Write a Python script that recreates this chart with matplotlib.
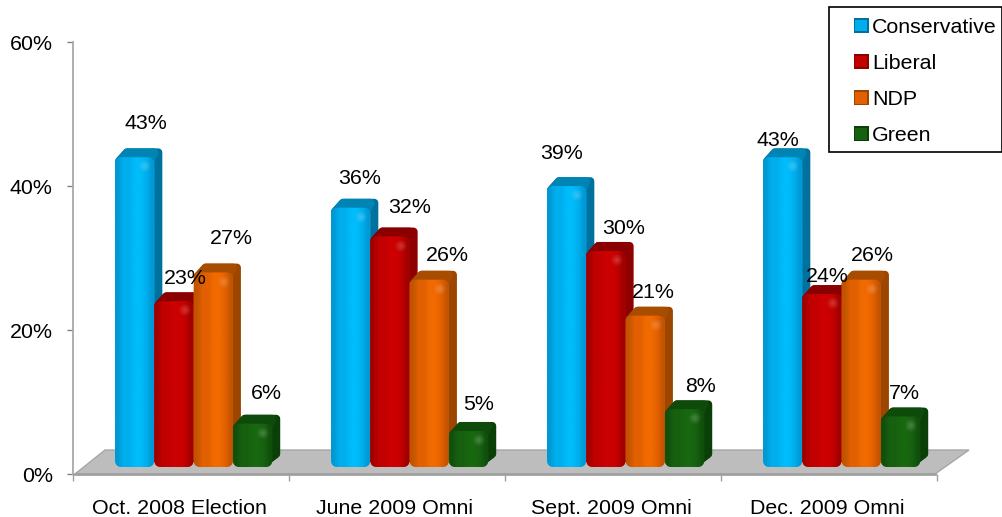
import numpy as np
import matplotlib
matplotlib.use('Agg')
import matplotlib.pyplot as plt
from matplotlib.colors import to_rgb
from matplotlib.legend_handler import HandlerBase
from matplotlib.patches import FancyBboxPatch, Patch, Polygon, Rectangle
from matplotlib.transforms import ScaledTranslation

categories = ['Oct. 2008 Election', 'June 2009 Omni', 'Sept. 2009 Omni', 'Dec. 2009 Omni']
parties = ['Conservative', 'Liberal', 'NDP', 'Green']
conservative = [43, 36, 39, 43]
liberal = [23, 32, 30, 24]
ndp = [27, 26, 21, 26]
green = [6, 5, 8, 7]
y_ticks = [0, 20, 40, 60]

# edge, base, bright, side, top
palette = {
    'Conservative': ('#0099d4', '#00aeee', '#00bcfa', '#00719e', '#0084b4'),
    'Liberal': ('#a00000', '#c20000', '#cc0000', '#8f0000', '#8a0000'),
    'NDP': ('#c25400', '#e26000', '#f06a00', '#9c4600', '#a84c00'),
    'Green': ('#114f0c', '#176010', '#186810', '#0b3f08', '#0e4a0a'),
}

# data label offsets from the bar top, in pixels
nudges = {
    'Conservative': [(11, 41), (9, 36), (-5, 40), (-5, 24)],
    'Liberal': [(11, 30), (20, 36), (18, 30), (5, 25)],
    'NDP': [(18, 41), (18, 31), (8, 30), (11, 31)],
    'Green': [(14, 37), (10, 34), (16, 30), (4, 30)],
}

plt.rcParams['font.family'] = ['Liberation Sans', 'DejaVu Sans']
W, H = 1003, 517
fig = plt.figure(figsize=(W / 100, H / 100), dpi=100)
ax = fig.add_axes([73 / W, 1 - 474 / H, 864 / W, 432 / H])
ax.set_xlim(0, 4)
ax.set_ylim(0, 60)

px_x = 1 / 216
px_y = 60 / 432
bar_w = 39.3 * px_x
start = 42 * px_x
lift = 7 * px_y
dx = 8 * px_x
dy = 9 * px_y

yy, xx = np.mgrid[-1:1:16j, -1:1:16j]
spot = np.ones((16, 16, 4))
spot[..., 3] = np.clip(1 - np.hypot(xx, yy), 0, 1) * 0.22


def draw_bar(rect, stops, z):
    x0, w = rect.get_x(), rect.get_width()
    y0, h = rect.get_y(), rect.get_height()
    edge, base, bright, side, top = stops
    # extruded part behind the front face, rounded by a thick round-joined edge
    ins_x, ins_y = 4 * px_x, 4 * px_y
    shell = [(x0 + w - 2 * ins_x, y0 + ins_y), (x0 + w + dx - ins_x, y0 + dy + ins_y),
             (x0 + w + dx - ins_x, y0 + h + dy - ins_y), (x0 + dx + ins_x, y0 + h + dy - ins_y),
             (x0 + ins_x, y0 + h - ins_y), (x0 + w - ins_x, y0 + h - ins_y)]
    ax.add_patch(Polygon(shell, closed=True, fc=side, ec=side, lw=5.8, joinstyle='round', zorder=z))
    lid = [(x0 + ins_x, y0 + h - ins_y), (x0 + dx + ins_x, y0 + h + dy - ins_y),
           (x0 + w + dx - 2 * ins_x, y0 + h + dy - ins_y), (x0 + w - ins_x, y0 + h - ins_y)]
    ax.add_patch(Polygon(lid, closed=True, fc=top, ec=top, lw=5.8, joinstyle='round', zorder=z + 0.1))
    face = FancyBboxPatch((x0, y0), w, h, boxstyle='round,pad=0,rounding_size=%f' % (7 * px_x),
                          mutation_aspect=px_y / px_x, fc=base, ec='none', zorder=z + 0.2)
    ax.add_patch(face)
    stops_rgb = np.array([to_rgb(c) for c in (edge, base, base, bright, bright, base, edge)])
    img = ax.imshow(stops_rgb[None, :, :], extent=(x0, x0 + w, y0, y0 + h), aspect='auto',
                    interpolation='bilinear', zorder=z + 0.3)
    img.set_clip_path(face)
    # soft highlight near the top right corner of the face
    glow = ax.imshow(spot, extent=(x0 + w - 16 * px_x, x0 + w - 2 * px_x,
                                   y0 + h - 16 * px_y, y0 + h - 2 * px_y),
                     aspect='auto', interpolation='bilinear', zorder=z + 0.4)
    glow.set_clip_path(face)


class BevelHandler(HandlerBase):
    def create_artists(self, legend, orig, xd, yd, width, height, fontsize, trans):
        s = 10.8
        rim = 1.3
        x0, y0 = width - s + 1.3 - xd, (height - s) / 2 - yd
        outer = Rectangle((x0, y0), s, s, fc=orig.get_edgecolor(), ec='none', transform=trans)
        inner = Rectangle((x0 + rim, y0 + rim), s - 2 * rim, s - 2 * rim,
                          fc=orig.get_facecolor(), ec='none', transform=trans)
        return [outer, inner]


# floor under the bars
floor = [(2 * px_x, 0), (32 * px_x, 24 * px_y), (896 * px_x, 24 * px_y), (862 * px_x, 0)]
ax.add_patch(Polygon(floor, closed=True, fc='#bdbdbd', ec='#a6a6a6', lw=1, clip_on=False, zorder=1))
ax.plot([2 * px_x, 862 * px_x], [0, 0], color='#a0a0a0', lw=2, clip_on=False, zorder=1.5)

series = [conservative, liberal, ndp, green]
bar_sets = {}
for i, (party, vals) in enumerate(zip(parties, series)):
    xs = np.arange(len(categories)) + start + i * bar_w
    bar_sets[party] = ax.bar(xs, vals, width=bar_w, bottom=lift, align='edge', color='none', lw=0)

z = 2
for g in range(len(categories)):
    for party in parties:
        draw_bar(bar_sets[party][g], palette[party], z)
        z += 1

for party, vals in zip(parties, series):
    for g, v in enumerate(vals):
        rect = bar_sets[party][g]
        ax.annotate('%d%%' % v, (rect.get_x() + bar_w / 2, v), xytext=nudges[party][g],
                    textcoords='offset pixels', ha='center', va='center', fontsize=15.4,
                    color='black', zorder=100, annotation_clip=False)

ax.set_xlim(0, 4)
ax.set_ylim(0, 60)
ax.set_facecolor('none')
for s in ['top', 'right', 'bottom']:
    ax.spines[s].set_visible(False)
ax.spines['left'].set_color('#a8a8a8')
ax.spines['left'].set_linewidth(1.3)

ax.set_yticks(y_ticks)
ax.set_yticklabels(['%d%%' % t for t in y_ticks], fontsize=15.4)
ax.tick_params(axis='y', length=4.5, width=1, color='#808080', pad=10)
ax.set_xticks(range(5))
ax.set_xticklabels([])
ax.tick_params(axis='x', length=5, width=1, color='#a0a0a0')
ax.set_xticks(np.arange(4) + 0.5, minor=True)
ax.set_xticklabels(categories, minor=True, fontsize=15.4)
ax.tick_params(axis='x', which='minor', length=0, pad=18)
shift = ScaledTranslation(-2 / 100, 0, fig.dpi_scale_trans)
for lab in ax.get_xticklabels(minor=True):
    lab.set_transform(lab.get_transform() + shift)

# legend box is drawn by hand, its bottom margin is tighter than the legend's own
fig.add_artist(Rectangle((829 / W, 1 - 152 / H), 173 / W, 145 / H, transform=fig.transFigure,
                         fc='white', ec='black', lw=1.2, zorder=150))
handles = [Patch(facecolor=palette[p][1], edgecolor=palette[p][3], label=p) for p in parties]
leg = fig.legend(handles=handles, loc='upper left', bbox_to_anchor=(829 / W, 1 - 7 / H),
                 bbox_transform=fig.transFigure, fontsize=15.4, frameon=False,
                 borderaxespad=0, borderpad=0.52,
                 labelspacing=0.8, handlelength=1.25, handletextpad=0.25,
                 handler_map={Patch: BevelHandler()})
leg.set_zorder(200)

fig.savefig('out.png', dpi=100)
